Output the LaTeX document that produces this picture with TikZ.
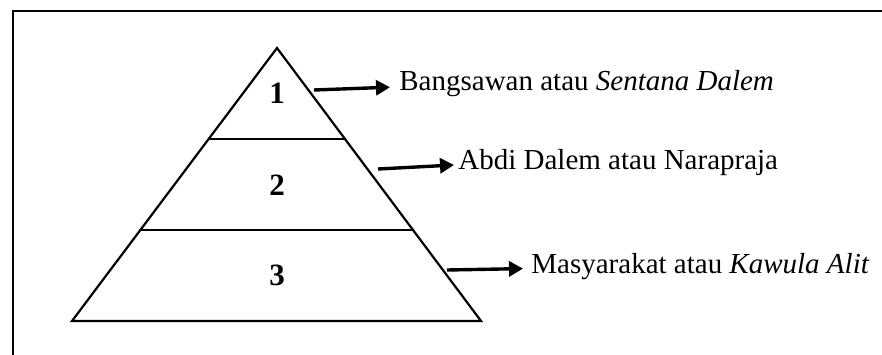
\documentclass[tikz,border=0pt]{standalone}
\usepackage{fontspec}
\setmainfont{Liberation Serif}
\usetikzlibrary{arrows.meta}
\usetikzlibrary{calc}

\begin{document}
\begin{tikzpicture}[x=0.5pt, y=-0.5pt,
  font=\fontsize{14.5}{17}\selectfont,
  edge/.style={draw=black, line width=1.1pt},
  num/.style={font=\fontsize{15.5}{18}\selectfont\bfseries},
  lab/.style={anchor=base west, inner sep=0pt},
  ar/.style={-{Triangle[length=7pt,width=7.5pt]}, line width=1.7pt}
]
\useasboundingbox (0,0) rectangle (882,354);
\draw[line width=1.4pt] (13,360) -- (13,11) -- (890,11);

% pyramid
\coordinate (top) at (277,48);
\coordinate (bl)  at (72,321);
\coordinate (br)  at (481,321);
\draw[edge, line join=miter] (top) -- (bl) -- (br) -- cycle;
\draw[edge] ($(top)!1/3!(bl)$) -- ($(top)!1/3!(br)$);
\draw[edge] ($(top)!2/3!(bl)$) -- ($(top)!2/3!(br)$);

\node[num] (n1) at (277,93.5) {1};
\node[num] (n2) at (277,185)  {2};
\node[num] (n3) at (277,275)  {3};

\node[lab] (l1) at (399,90)  {Bangsawan atau \textit{Sentana Dalem}};
\node[lab] (l2) at (458,169) {Abdi Dalem atau Narapraja};
\node[lab] (l3) at (531,273) {Masyarakat atau \textit{Kawula Alit}};

\coordinate (s1) at (314,90);
\coordinate (s2) at (378,169);
\coordinate (s3) at (447,270);
\draw[ar] (s1) -- ([shift={(-4.5pt,1.4pt)}]l1.base west);
\draw[ar] (s2) -- ([shift={(-2pt,2pt)}]l2.base west);
\draw[ar] (s3) -- ([shift={(-4pt,2.2pt)}]l3.base west);
\end{tikzpicture}
\end{document}
